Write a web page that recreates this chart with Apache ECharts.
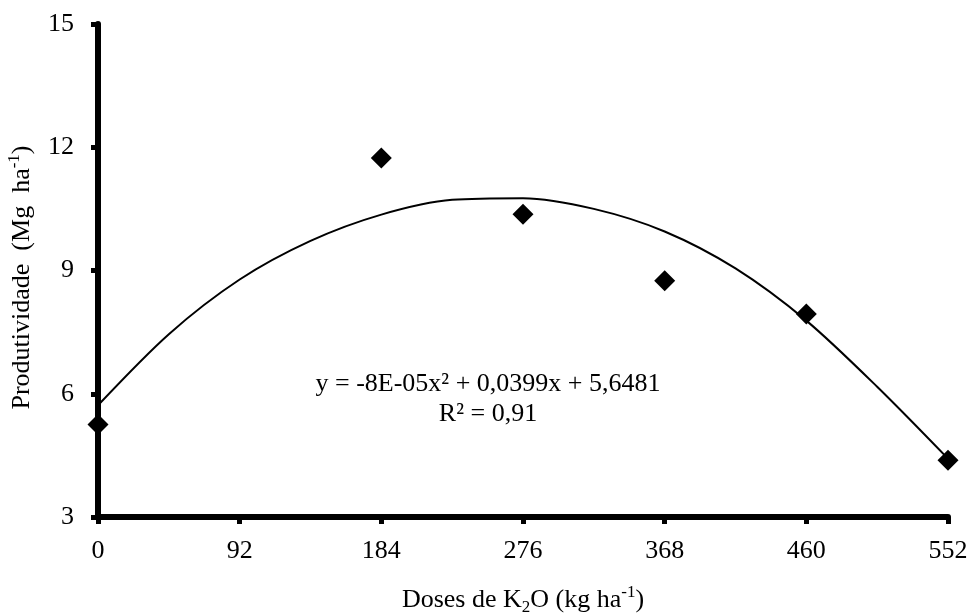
<!DOCTYPE html>
<html>
<head>
<meta charset="utf-8">
<script src="https://cdn.jsdelivr.net/npm/echarts@6/dist/echarts.min.js"></script>
<style>
html,body{margin:0;padding:0;background:#fff;}
#chart{width:969px;height:615px;}
</style>
</head>
<body>
<div id="chart"></div>
<script>
// Observed data (dose of K2O, yield)
const doses = [0, 184, 276, 368, 460, 552];
const yields = [5.25, 11.74, 10.37, 8.75, 7.94, 4.38];

// Trendline points
const trendX = [0, 46, 92, 138, 184, 230, 276, 322, 368, 414, 460, 506, 552];
const trendY = [5.72, 7.45, 8.78, 9.72, 10.36, 10.72, 10.76, 10.50, 9.95, 9.05, 7.78, 6.17, 4.42];

const xTicks = [0, 92, 184, 276, 368, 460, 552];
const yTicks = [3, 6, 9, 12, 15];

const equationText = 'y = -8E-05x² + 0,0399x + 5,6481\nR² = 0,91';

const FONT = "'Liberation Serif', 'Times New Roman', serif";
const FS = 26;

const chart = echarts.init(document.getElementById('chart'));
const option = {
  backgroundColor: '#ffffff',
  animation: false,
  grid: { left: 98, right: 21, top: 24, bottom: 98, containLabel: false, outerBoundsMode: 'none' },
  xAxis: {
    type: 'value',
    min: xTicks[0], max: xTicks[xTicks.length - 1], interval: 92,
    axisLine: { onZero: false, lineStyle: { color: '#000', width: 6 } },
    axisTick: { show: true, length: 7, lineStyle: { color: '#000', width: 5 } },
    axisLabel: { color: '#000', fontFamily: FONT, fontSize: FS, margin: 21 },
    splitLine: { show: false },
    name: '{n|Doses de K}{sub|2}{n|O (kg ha}{sup|-1}{n|)}',
    nameLocation: 'middle',
    nameGap: 67,
    nameTextStyle: {
      color: '#000', fontFamily: FONT, fontSize: FS,
      rich: {
        n: { fontFamily: FONT, fontSize: FS, color: '#000', lineHeight: 32 },
        sub: { fontFamily: FONT, fontSize: 17, color: '#000', verticalAlign: 'bottom', lineHeight: 32 },
        sup: { fontFamily: FONT, fontSize: 17, color: '#000', verticalAlign: 'top', lineHeight: 32 }
      }
    }
  },
  yAxis: {
    type: 'value',
    min: yTicks[0], max: yTicks[yTicks.length - 1], interval: 3,
    axisLine: { show: true, lineStyle: { color: '#000', width: 6 } },
    axisTick: { show: true, length: 7, lineStyle: { color: '#000', width: 5 } },
    axisLabel: { color: '#000', fontFamily: FONT, fontSize: FS, margin: 24 },
    splitLine: { show: false },
    name: '{n|Produtividade  (Mg  ha}{sup|-1}{n|)}',
    nameLocation: 'middle',
    nameGap: 60,
    nameRotate: 90,
    nameTextStyle: {
      color: '#000', fontFamily: FONT, fontSize: FS,
      padding: [0, 14, 0, 0],
      rich: {
        n: { fontFamily: FONT, fontSize: FS, color: '#000', lineHeight: 32 },
        sup: { fontFamily: FONT, fontSize: 17, color: '#000', verticalAlign: 'top', lineHeight: 32 }
      }
    }
  },
  graphic: [{
    type: 'text',
    x: 488, y: 369,
    style: {
      text: equationText,
      fontFamily: FONT, fontSize: FS, fill: '#000',
      align: 'center', verticalAlign: 'top', lineHeight: 30
    }
  }],
  series: [
    {
      type: 'line',
      data: trendX.map((x, i) => [x, trendY[i]]),
      smooth: 0.3,
      showSymbol: false,
      lineStyle: { color: '#000', width: 2 },
      z: 2
    },
    {
      type: 'scatter',
      data: doses.map((x, i) => [x, yields[i]]),
      symbol: 'diamond',
      symbolSize: [21, 21],
      itemStyle: { color: '#000', opacity: 1 },
      z: 3
    }
  ]
};
chart.setOption(option);
</script>
</body>
</html>
